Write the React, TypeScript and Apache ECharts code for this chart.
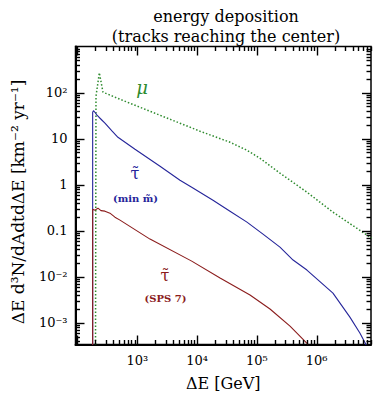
import React, { useEffect, useRef } from "react";
import * as echarts from "echarts";

// ---- data (ΔE in GeV, flux in km^-2 yr^-1) ----
const muonE = [200, 204, 232, 267, 514, 1630, 5170, 11170, 35500, 68200, 112000, 243000, 687000, 1870000, 8240000];
const muonF = [1e-4, 83, 269, 102, 71.6, 39.3, 21.6, 14.5, 8.35, 5.6, 3.76, 1.78, 0.687, 0.253, 0.069];

const tauMinE = [179.5, 179.5, 185, 200, 212, 250, 288, 380, 475, 916, 2400, 5180, 8130, 18450, 35500, 68200, 126500, 243000, 403000, 686000, 1870000, 3590000, 5270000, 6860000];
const tauMinF = [1e-4, 37.4, 40.3, 36, 32.2, 26, 21.6, 14.5, 10.7, 5.89, 2.51, 1.25, 0.883, 0.461, 0.266, 0.154, 0.0843, 0.044, 0.0231, 0.014, 0.00443, 0.00133, 0.000601, 0.000316];

const tauSpsE = [179.5, 179.5, 196, 220, 247, 288, 349, 423, 514, 1630, 8130, 24200, 76700, 165600, 358000, 716000];
const tauSpsF = [1e-4, 0.294, 0.28, 0.309, 0.273, 0.266, 0.241, 0.197, 0.17, 0.0658, 0.0219, 0.00937, 0.00401, 0.002, 0.00085, 0.00034];

const xMajor = [2, 3, 4, 5, 6];
const xLabels = [3, 4, 5, 6];
const yMajor = [-3, -2, -1, 0, 1, 2];

const XMIN = 1.967;
const XMAX = 6.908;
const YMIN = -3.47;
const YMAX = 3.0;

const FONT = "'DejaVu Serif', serif";
const GREEN = "#2e8b2e";
const BLUE = "#25259a";
const RED = "#8b1c1c";

const sup: Record<string, string> = { "-": "⁻", "0": "⁰", "1": "¹", "2": "²", "3": "³", "4": "⁴", "5": "⁵", "6": "⁶", "7": "⁷", "8": "⁸", "9": "⁹" };
const pow10 = (n: number) => "10" + String(n).split("").map((c) => sup[c]).join("");

function minors(lo: number, hi: number, a: number, b: number) {
  const out: number[] = [];
  for (let n = a; n <= b; n++) {
    for (let k = 2; k <= 9; k++) {
      const v = n + Math.log10(k);
      if (v > lo && v < hi) out.push(v);
    }
  }
  return out;
}

const toPts = (xs: number[], ys: number[]) => xs.map((x, i) => [Math.log10(x), Math.log10(ys[i])]);

export default function App() {
  const ref = useRef<HTMLDivElement>(null);
  useEffect(() => {
    if (!ref.current) return;
    const chart = echarts.init(ref.current, undefined, { renderer: "svg" });

    const texts: any[] = [
      { type: "text", x: 226, y: 16, style: { text: "energy deposition", font: `16px ${FONT}`, fill: "#000", textAlign: "center", textVerticalAlign: "middle" } },
      { type: "text", x: 226, y: 36, style: { text: "(tracks reaching the center)", font: `16px ${FONT}`, fill: "#000", textAlign: "center", textVerticalAlign: "middle" } },
      { type: "text", x: 18, y: 202, rotation: Math.PI / 2, style: { text: "ΔE d³N/dAdtdΔE [km⁻² yr⁻¹]", font: `17px ${FONT}`, fill: "#000", textAlign: "center", textVerticalAlign: "middle" } },
      { type: "text", x: 142, y: 87, style: { text: "μ", font: `italic 18px ${FONT}`, fill: GREEN, textAlign: "center", textVerticalAlign: "middle" } },
      { type: "text", x: 135, y: 173, style: { text: "τ̃", font: `16px ${FONT}`, fill: BLUE, textAlign: "center", textVerticalAlign: "middle" } },
      { type: "text", x: 135.5, y: 198, style: { text: "(min m̃)", font: `bold 10px ${FONT}`, fill: BLUE, textAlign: "center", textVerticalAlign: "middle" } },
      { type: "text", x: 165, y: 275, style: { text: "τ̃", font: `16px ${FONT}`, fill: RED, textAlign: "center", textVerticalAlign: "middle" } },
      { type: "text", x: 165.5, y: 298.5, style: { text: "(SPS 7)", font: `bold 10px ${FONT}`, fill: RED, textAlign: "center", textVerticalAlign: "middle" } },
    ];

    const option: any = {
      animation: false,
      grid: {
        left: 75.5, right: 2, top: 46.5, bottom: 50.5,
        containLabel: false, outerBoundsMode: "none",
        show: true, borderColor: "#000", borderWidth: 1.5, backgroundColor: "transparent",
      },
      xAxis: {
        type: "value", min: XMIN, max: XMAX, splitLine: { show: false },
        position: "bottom",
        axisLine: { show: true, onZero: false, lineStyle: { color: "#000", width: 2 } },
        axisTick: { show: false },
        axisLabel: {
          show: true,
          customValues: xLabels,
          margin: 9,
          formatter: (v: number) => pow10(Math.round(v)),
          fontFamily: FONT,
          fontSize: 13,
          color: "#000",
        },
        name: "ΔE [GeV]",
        nameLocation: "middle",
        nameGap: 31,
        nameTextStyle: { fontFamily: FONT, fontSize: 16, color: "#000" },
      },
      yAxis: {
        type: "value", min: YMIN, max: YMAX, splitLine: { show: false },
        position: "left",
        axisLine: { show: true, onZero: false, lineStyle: { color: "#000", width: 2 } },
        axisTick: { show: false },
        axisLabel: {
          show: true,
          customValues: yMajor,
          margin: 8,
          formatter: (v: number) => {
            const n = Math.round(v);
            if (n === 0) return "1";
            if (n === 1) return "10";
            if (n === -1) return "0.1";
            return pow10(n);
          },
          fontFamily: FONT,
          fontSize: 13,
          color: "#000",
        },
      },
      series: [
        {
          type: "line",
          name: "mu",
          data: toPts(muonE, muonF),
          showSymbol: false,
          clip: true,
          lineStyle: { color: GREEN, width: 1.5, type: [1.5, 2] },
        },
        {
          type: "line",
          name: "tau min",
          data: toPts(tauMinE, tauMinF),
          showSymbol: false,
          clip: true,
          lineStyle: { color: BLUE, width: 1.1 },
        },
        {
          type: "line",
          name: "tau sps7",
          data: toPts(tauSpsE, tauSpsF),
          showSymbol: false,
          clip: true,
          lineStyle: { color: RED, width: 1.1 },
        },
      ],
      graphic: texts,
    };
    chart.setOption(option);

    // ticks placed through the chart's own scales (convertToPixel)
    const toPx = (x: number, y: number) => chart.convertToPixel({ gridIndex: 0 }, [x, y]) as number[];
    const [left, bottom] = toPx(XMIN, YMIN);
    const [right, top] = toPx(XMAX, YMAX);
    const tickStyle = { stroke: "#000", lineWidth: 1.4 };
    const ticks: any[] = [];
    const addX = (v: number, len: number) => {
      const px = Math.round(toPx(v, YMIN)[0]) + 0.5;
      ticks.push({ type: "line", silent: true, z: 10, shape: { x1: px, y1: bottom, x2: px, y2: bottom - len }, style: tickStyle });
      ticks.push({ type: "line", silent: true, z: 10, shape: { x1: px, y1: top, x2: px, y2: top + len }, style: tickStyle });
    };
    const addY = (v: number, len: number) => {
      const py = Math.round(toPx(XMIN, v)[1]) + 0.5;
      ticks.push({ type: "line", silent: true, z: 10, shape: { x1: left, y1: py, x2: left + len, y2: py }, style: tickStyle });
      ticks.push({ type: "line", silent: true, z: 10, shape: { x1: right, y1: py, x2: right - len, y2: py }, style: tickStyle });
    };
    xMajor.forEach((v) => addX(v, 9));
    minors(XMIN, XMAX, 1, 6).forEach((v) => addX(v, 4.5));
    yMajor.forEach((v) => addY(v, 9));
    minors(YMIN, YMAX, -4, 2).forEach((v) => addY(v, 4.5));
    chart.setOption({ graphic: [...texts, ...ticks] });

    return () => chart.dispose();
  }, []);
  return <div ref={ref} style={{ position: "fixed", left: 0, top: 0, width: 373, height: 395, background: "#fff" }} />;
}
